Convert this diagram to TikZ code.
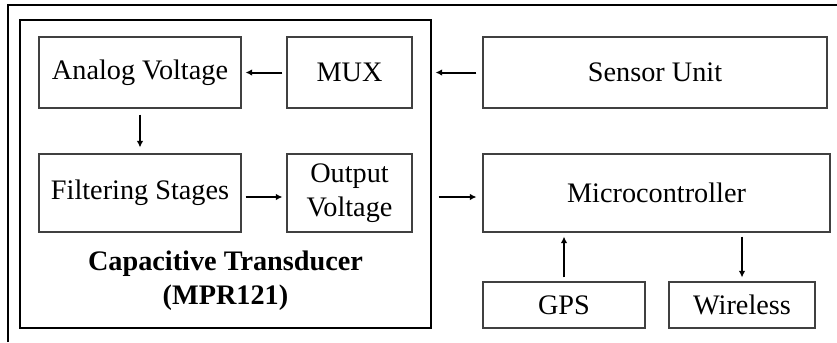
\documentclass[tikz,border=0pt]{standalone}
\usepackage{fontspec}
\setmainfont{Liberation Serif}
\usepackage{xcolor}
\usetikzlibrary{arrows.meta,positioning}
\definecolor{blockline}{HTML}{404040}

\begin{document}
\begin{tikzpicture}[
        x=0.4pt,y=-0.4pt,
        font=\fontsize{11.3}{13.4}\selectfont,
        block/.style={
            draw=blockline,
            line width=0.45pt,
            align=center,
            inner sep=0pt,
            minimum height=28.4pt
        },
        tallblock/.style={block,minimum height=31.2pt},
        lowblock/.style={block,minimum height=18.4pt},
        msg/.style={-{Latex[length=2.6pt,width=2.6pt]},line width=0.8pt,
            shorten <=1.6pt,shorten >=1.6pt},
        caption/.style={font=\fontsize{11.3}{13.6}\selectfont\bfseries,align=center}
    ]
        \useasboundingbox (0,0) rectangle (837,342);
        \draw[line width=0.5pt] (8,342) -- (8,5) -- (837,5);

        \node[draw,line width=0.45pt,minimum width=164.4pt,minimum height=123.2pt] (mpr) at (225.5,174) {};
        \node[block,minimum width=80.8pt] (analog) at (140,72.5) {Analog Voltage};
        \node[block,minimum width=50pt] (mux) at (349.5,72.5) {MUX};
        \node[tallblock,minimum width=80.8pt] (filter) at (140,193) {Filtering Stages};
        \node[tallblock,minimum width=50pt] (output) at (349.5,193) {Output\\Voltage};
        \node[caption] (mprlabel) at (225.5,281) {Capacitive Transducer\\(MPR121)};

        \node[block,minimum width=137.6pt] (sensor) at (655,72.5) {Sensor Unit};
        \node[tallblock,minimum width=138.8pt] (micro) at (656.5,193) {Microcontroller};
        \node[lowblock,minimum width=64.8pt] (gps) at (564,305) {GPS};
        \node[lowblock,minimum width=58.4pt] (wireless) at (742,305) {Wireless};

        \draw[msg] (mux) -- (analog);
        \draw[msg,shorten <=2.4pt,shorten >=2.4pt] (analog) -- (filter);
        \draw[msg] ([yshift=-1.6pt]filter.east) -- ([yshift=-1.6pt]output.west);
        \draw[msg,shorten <=2.4pt] (sensor.west) -- (sensor.west -| mpr.east);
        \draw[msg,shorten <=2.8pt,shorten >=2.4pt] ([yshift=-1.6pt]output.east -| mpr.east) -- ([yshift=-1.6pt]micro.west);
        \draw[msg] (gps) -- (gps |- micro.south);
        \draw[msg] (wireless |- micro.south) -- (wireless);
    \end{tikzpicture}
\end{document}
